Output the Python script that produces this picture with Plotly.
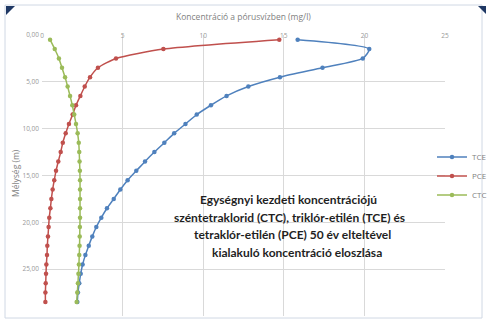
import plotly.graph_objects as go

depth = [0.5 + i for i in range(29)]

tce = [15.86, 20.3, 19.9, 17.4, 14.76, 12.8, 11.45, 10.48, 9.6, 8.9, 8.2, 7.59,
       6.97, 6.39, 5.85, 5.31, 4.86, 4.45, 4.03, 3.68, 3.37, 3.12, 2.9, 2.69,
       2.52, 2.4, 2.31, 2.23, 2.19]
pce = [14.72, 7.53, 4.59, 3.47, 2.98, 2.65, 2.38, 2.11, 1.9, 1.67, 1.47, 1.29,
       1.16, 1.01, 0.87, 0.76, 0.66, 0.58, 0.52, 0.45, 0.41, 0.37, 0.33, 0.31,
       0.27, 0.25, 0.23, 0.21, 0.21]
ctc = [0.5, 0.79, 1.05, 1.24, 1.43, 1.59, 1.74, 1.88, 2.0, 2.11, 2.21, 2.28,
       2.31, 2.33, 2.35, 2.36, 2.36, 2.36, 2.36, 2.36, 2.35, 2.34, 2.33, 2.31,
       2.29, 2.26, 2.23, 2.19, 2.15]

series = [("TCE", tce, "#4F81BD"), ("PCE", pce, "#C0504D"), ("CTC", ctc, "#9BBB59")]

x_ticks = [0, 5, 10, 15, 20, 25]
y_ticks = [0, 5, 10, 15, 20, 25, 30]

note_lines = [
    "Egységnyi kezdeti koncentrációjú",
    "széntetraklorid (CTC), triklór-etilén (TCE) és",
    "tetraklór-etilén (PCE) 50 év elteltével",
    "kialakuló koncentráció eloszlása",
]

W, H = 487, 320
L, R, T, B = 42, 42, 35, 4
pw, ph = W - L - R, H - T - B

def px(x):
    return (x - L) / pw

def py(y):
    return (H - B - y) / ph

fig = go.Figure()
for name, vals, col in series:
    fig.add_trace(go.Scatter(
        x=vals, y=depth, name=name, mode="lines+markers",
        line=dict(color=col, width=1.5, shape="spline", smoothing=0.6),
        marker=dict(color=col, size=4.5, symbol="circle"),
        hoverinfo="skip",
    ))

grid = "#D9D9D9"
tickfont = dict(family="Open Sans, Liberation Sans", size=6.5, color="#999999")

note_pos = [(288, 199), (289, 217), (292, 235), (297, 252)]
annotations = [
    dict(text="Koncentráció a pórusvízben (mg/l)", xref="paper", yref="paper",
         x=px(243), y=py(16), xanchor="center", yanchor="middle", showarrow=False,
         font=dict(family="Open Sans, Liberation Sans", size=8.5, color="#7F7F7F")),
    dict(text="Mélység (m)", xref="paper", yref="paper", x=px(15), y=py(173),
         xanchor="center", yanchor="middle",
         showarrow=False, textangle=-90,
         font=dict(family="Open Sans, Liberation Sans", size=8.5, color="#7F7F7F")),
]
for line, (lx, ly) in zip(note_lines, note_pos):
    annotations.append(dict(
        text=line, xref="paper", yref="paper", x=px(lx), y=py(ly),
        xanchor="center", yanchor="middle", showarrow=False,
        font=dict(family="Lato", size=12, color="#1F1F1F", weight="bold")))

fig.update_layout(
    width=W, height=H,
    margin=dict(l=L, r=R, t=T, b=B, autoexpand=False),
    paper_bgcolor="white", plot_bgcolor="white",
    separators=",.",
    showlegend=True,
    legend=dict(x=px(432), y=py(176), xanchor="left", yanchor="middle",
                font=dict(family="Open Sans, Liberation Sans", size=8, color="#7F7F7F"),
                bgcolor="rgba(0,0,0,0)", itemwidth=30),
    xaxis=dict(range=[0, 25], side="top", tickvals=x_ticks, tickfont=tickfont,
               showgrid=True, gridcolor=grid, gridwidth=1, zeroline=False,
               showline=False, ticks="", ticklen=0, fixedrange=True,
               ticklabelstandoff=-5),
    yaxis=dict(range=[30, 0], tickvals=y_ticks, tickformat=".2f", tickfont=tickfont,
               showgrid=True, gridcolor=grid, gridwidth=1, zeroline=False,
               showline=False, ticks="", fixedrange=True, ticklabelstandoff=2),
    annotations=annotations,
    shapes=[
        dict(type="rect", xref="paper", yref="paper", x0=px(5), x1=px(482), y0=py(318), y1=py(5),
             line=dict(color="#D0D8E4", width=1), layer="below"),
        dict(type="path", xref="paper", yref="paper",
             path=f"M {px(6)} {py(6)} L {px(15)} {py(6)} L {px(6)} {py(15)} Z",
             fillcolor="#1F3864", line=dict(width=0)),
        dict(type="path", xref="paper", yref="paper",
             path=f"M {px(478)} {py(6)} L {px(486)} {py(6)} L {px(486)} {py(14)} Z",
             fillcolor="#1F3864", line=dict(width=0)),
    ],
)

fig.write_html("out.html")
